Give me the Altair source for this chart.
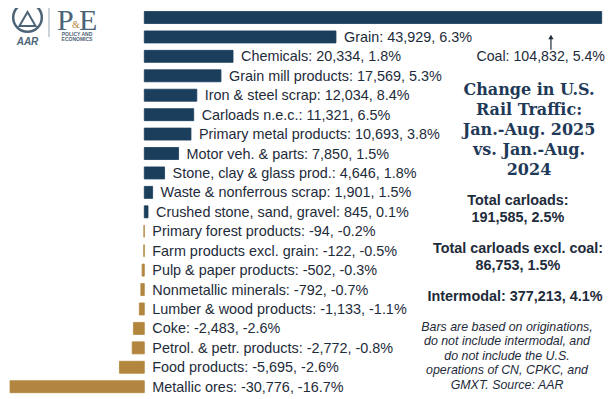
import altair as alt
import pandas as pd

categories = ["Coal", "Grain", "Chemicals", "Grain mill products", "Iron & steel scrap",
              "Carloads n.e.c.", "Primary metal products", "Motor veh. & parts",
              "Stone, clay & glass prod.", "Waste & nonferrous scrap",
              "Crushed stone, sand, gravel", "Primary forest products",
              "Farm products excl. grain", "Pulp & paper products", "Nonmetallic minerals",
              "Lumber & wood products", "Coke", "Petrol. & petr. products",
              "Food products", "Metallic ores"]
values = [104832, 43929, 20334, 17569, 12034, 11321, 10693, 7850, 4646, 1901, 845,
          -94, -122, -502, -792, -1133, -2483, -2772, -5695, -30776]
pct = [5.4, 6.3, 1.8, 5.3, 8.4, 6.5, 3.8, 1.5, 1.8, 1.5, 0.1,
       -0.2, -0.5, -0.3, -0.7, -1.1, -2.6, -0.8, -2.6, -16.7]

title_lines = ["Change in U.S.", "Rail Traffic:", "Jan.-Aug. 2025", "vs. Jan.-Aug.", "2024"]
total_lines = ["Total carloads:", "191,585, 2.5%"]
excl_lines = ["Total carloads excl. coal:", "86,753, 1.5%"]
intermodal_line = "Intermodal: 377,213, 4.1%"
note_lines = ["Bars are based on originations,", "do not include intermodal, and",
              "do not include the U.S.", "operations of CN, CPKC, and", "GMXT. Source: AAR"]

NAVY = "#1a3e5c"
TAN = "#b2863f"
TXT = "#1e2b3a"
SANS = "Liberation Sans"

df = pd.DataFrame({
    "cat": categories,
    "value": values,
    "pct": pct,
    "idx": list(range(len(categories))),
})
df["zero"] = 0
df["labx"] = df["value"].clip(lower=0)
df["sign"] = ["pos" if v >= 0 else "neg" for v in values]
df["label"] = [f"{c}: {v:,}, {p:.1f}%" for c, v, p in zip(categories, values, pct)]

xs = alt.Scale(domain=[-31240, 105592], nice=False, zero=False, padding=0)
ys = alt.Scale(domain=[-0.489, 19.53], reverse=True, nice=False, zero=False, padding=0)

base = alt.Chart(df)
col_scale = alt.Scale(domain=["pos", "neg"], range=[NAVY, TAN])

bars = base.mark_bar(size=12, strokeWidth=0.8).encode(
    x=alt.X("zero:Q", scale=xs, axis=None),
    x2="value:Q",
    y=alt.Y("idx:Q", scale=ys, axis=None),
    color=alt.Color("sign:N", scale=col_scale, legend=None),
    stroke=alt.Color("sign:N", scale=col_scale, legend=None),
)

labels = base.transform_filter(alt.datum.idx > 0).mark_text(
    align="left", baseline="middle", dx=8, dy=1, fontSize=14.4, font=SANS, color=TXT
).encode(
    x=alt.X("labx:Q", scale=xs),
    y=alt.Y("idx:Q", scale=ys),
    text="label:N",
)

coal_df = df[df.idx == 0].copy()
coal_df["lx"] = 105592
coal_df["ly"] = 2.0
coal_df["ax"] = 93200
coal_df["ay1"] = 1.0
coal_df["ay2"] = 1.66

coal_label = alt.Chart(coal_df).mark_text(
    align="right", baseline="middle", dy=1, fontSize=14.2, font=SANS, color=TXT
).encode(x=alt.X("lx:Q", scale=xs), y=alt.Y("ly:Q", scale=ys), text="label:N")

arrow_line = alt.Chart(coal_df).mark_rule(color=TXT, strokeWidth=1.2).encode(
    x=alt.X("ax:Q", scale=xs), y=alt.Y("ay1:Q", scale=ys), y2="ay2:Q")
arrow_head = alt.Chart(coal_df).mark_point(
    shape="triangle-up", filled=True, size=28, color=TXT, opacity=1
).encode(x=alt.X("ax:Q", scale=xs), y=alt.Y("ay1:Q", scale=ys))

one = alt.Chart(pd.DataFrame({"a": [0]}))

def txt(lines, x, y, size, lh, weight="normal", style="normal", font=SANS, color=TXT, align="center"):
    return one.mark_text(
        align=align, baseline="alphabetic", fontSize=size, lineHeight=lh,
        fontWeight=weight, fontStyle=style, font=font, color=color
    ).encode(x=alt.value(x), y=alt.value(y), text=alt.value(lines))

# coordinates below are chart-space pixels (page minus 8px margin)
title = txt(title_lines, 521, 87, 16, 20, weight="bold", font="DejaVu Serif", color="#1f3a58")
total = txt(total_lines, 510, 197, 14.4, 17, weight="bold")
excl = txt(excl_lines, 510, 244.5, 14.4, 17, weight="bold")
inter = txt([intermodal_line], 507, 293, 14.4, 17, weight="bold")
note = txt(note_lines, 499, 323, 12.4, 14.4, style="italic")

LOGO = "#4b6477"
logo_circle = one.mark_point(shape="circle", filled=False, size=820, strokeWidth=2.5, color=LOGO, opacity=1).encode(
    x=alt.value(19.5), y=alt.value(9.5))
logo_tri = one.mark_point(shape="triangle-up", filled=False, size=260, strokeWidth=2, color=LOGO, opacity=1).encode(
    x=alt.value(19.5), y=alt.value(11))
logo_aar = txt(["AAR"], 19.5, 37, 10, 10, weight="bold", style="italic", color=LOGO)
logo_sep = one.mark_rule(color="#9aa8b3", strokeWidth=1).encode(
    x=alt.value(41), y=alt.value(-3), y2=alt.value(29))
logo_p = txt(["P"], 49, 22, 30, 30, font="Liberation Serif", color=LOGO, align="left")
logo_e = txt(["E"], 71, 22, 30, 30, font="Liberation Serif", color=LOGO, align="left")
logo_amp = txt(["&"], 64, 20, 10, 10, font="Liberation Serif", color=TAN, align="left")
logo_sub = txt(["POLICY AND", "ECONOMICS"], 69, 28, 5, 4.5, weight="bold", color=LOGO)

chart = alt.layer(
    bars, labels, coal_label, arrow_line, arrow_head,
    title, total, excl, inter, note,
    logo_circle, logo_tri, logo_aar, logo_sep, logo_p, logo_e, logo_amp, logo_sub,
).properties(
    width=597, height=389, padding=0, autosize=alt.AutoSizeParams(type="none")
).configure_view(stroke=None)

chart.save("out.html", embed_options={"renderer": "svg", "actions": False})
